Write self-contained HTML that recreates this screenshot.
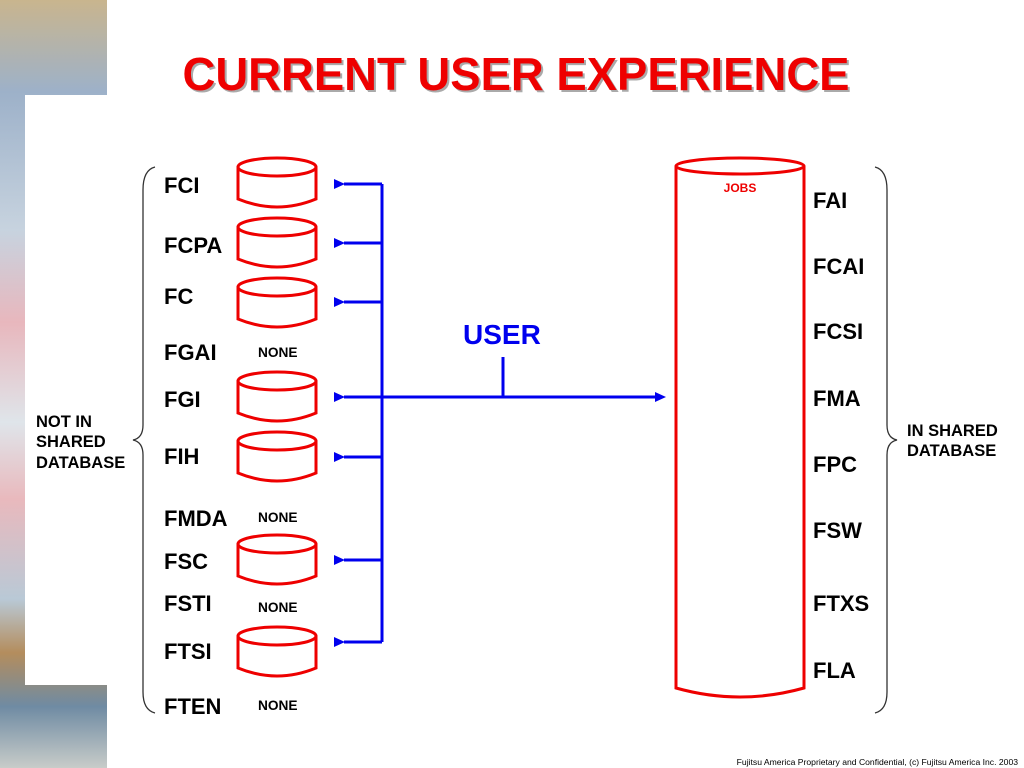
<!DOCTYPE html>
<html><head><style>
body{margin:0;width:1024px;height:768px;overflow:hidden;background:#fff;font-family:"Liberation Sans",sans-serif}
</style></head><body>
<svg width="1024" height="768" xmlns="http://www.w3.org/2000/svg" style="position:absolute;left:0;top:0">
<defs>
<linearGradient id="g1" x1="0" y1="0" x2="0" y2="1">
<stop offset="0" stop-color="#c9b58e"/><stop offset="0.12" stop-color="#9db1c9"/><stop offset="0.3" stop-color="#c7d3df"/><stop offset="0.42" stop-color="#e8b7bd"/><stop offset="0.55" stop-color="#dfe5ea"/><stop offset="0.65" stop-color="#e9b9bd"/><stop offset="0.78" stop-color="#b9c9d6"/><stop offset="0.85" stop-color="#b48d5d"/><stop offset="0.92" stop-color="#6f8ba3"/><stop offset="1" stop-color="#c8ccc9"/>
</linearGradient>
<marker id="ar" markerWidth="11" markerHeight="10" refX="1" refY="5" orient="auto" markerUnits="userSpaceOnUse"><path d="M11,0 L0,5 L11,10 z" fill="#0000ee"/></marker>
</defs>
<rect x="0" y="0" width="107" height="768" fill="url(#g1)"/>
<rect x="25" y="95" width="82" height="590" fill="#fff"/>
<text x="518" y="92" text-anchor="middle" font-size="46" font-weight="bold" fill="#aaa" textLength="667" lengthAdjust="spacingAndGlyphs">CURRENT USER EXPERIENCE</text>
<text x="516" y="90" text-anchor="middle" font-size="46" font-weight="bold" fill="#ee0000" textLength="667" lengthAdjust="spacingAndGlyphs">CURRENT USER EXPERIENCE</text>
<g fill="none" stroke="#ee0000" stroke-width="3">
<g id="c"><ellipse cx="277" cy="167" rx="39" ry="9"/><path d="M238,167 V199 Q277,215 316,199 V167"/></g>
<use href="#c" y="60"/><use href="#c" y="120"/><use href="#c" y="214"/><use href="#c" y="274"/><use href="#c" y="377"/><use href="#c" y="469"/>
<ellipse cx="740" cy="166" rx="64" ry="8"/>
<path d="M676,166 V688 Q740,706 804,688 V166"/>
</g>
<g stroke="#0000ee" stroke-width="3" fill="none">
<path d="M382,184 V642"/>
<path d="M382,184 H344" marker-end="url(#ar)"/>
<path d="M382,243 H344" marker-end="url(#ar)"/>
<path d="M382,302 H344" marker-end="url(#ar)"/>
<path d="M382,457 H344" marker-end="url(#ar)"/>
<path d="M382,560 H344" marker-end="url(#ar)"/>
<path d="M382,642 H344" marker-end="url(#ar)"/>
<path d="M660,397 H344" marker-end="url(#ar)"/>
<path d="M503,357 V397"/>
</g>
<path d="M655,392 L666,397 L655,402 z" fill="#0000ee"/>
<g fill="none" stroke="#333" stroke-width="1.3">
<path d="M155,167 Q143,170 143,190 V425 Q143,438 133,440 Q143,442 143,455 V692 Q143,710 155,713"/>
<path d="M875,167 Q887,170 887,190 V425 Q887,438 897,440 Q887,442 887,455 V692 Q887,710 875,713"/>
</g>
<g font-size="22" font-weight="bold" fill="#000">
<text x="164" y="193">FCI</text><text x="164" y="253">FCPA</text><text x="164" y="304">FC</text>
<text x="164" y="360">FGAI</text><text x="164" y="407">FGI</text><text x="164" y="464">FIH</text>
<text x="164" y="526">FMDA</text><text x="164" y="569">FSC</text><text x="164" y="611">FSTI</text>
<text x="164" y="659">FTSI</text><text x="164" y="714">FTEN</text>
<text x="813" y="208">FAI</text><text x="813" y="274">FCAI</text><text x="813" y="339">FCSI</text>
<text x="813" y="406">FMA</text><text x="813" y="472">FPC</text><text x="813" y="538">FSW</text>
<text x="813" y="611">FTXS</text><text x="813" y="678">FLA</text>
</g>
<g font-size="13.7" font-weight="bold" fill="#000">
<text x="258" y="357">NONE</text><text x="258" y="522">NONE</text><text x="258" y="612">NONE</text><text x="258" y="710">NONE</text>
</g>
<g font-size="16.5" font-weight="bold" fill="#000">
<text x="36" y="427">NOT IN</text><text x="36" y="447">SHARED</text><text x="36" y="468">DATABASE</text>
<text x="907" y="436">IN SHARED</text><text x="907" y="456">DATABASE</text>
</g>
<text x="740" y="192" text-anchor="middle" font-size="12" font-weight="bold" fill="#ee0000">JOBS</text>
<text x="463" y="344" font-size="28" font-weight="bold" fill="#0000ee">USER</text>
<text x="1018" y="765" text-anchor="end" font-size="8.6" fill="#000">Fujitsu America Proprietary and Confidential, (c) Fujitsu America Inc. 2003</text>
</svg>
</body></html>
